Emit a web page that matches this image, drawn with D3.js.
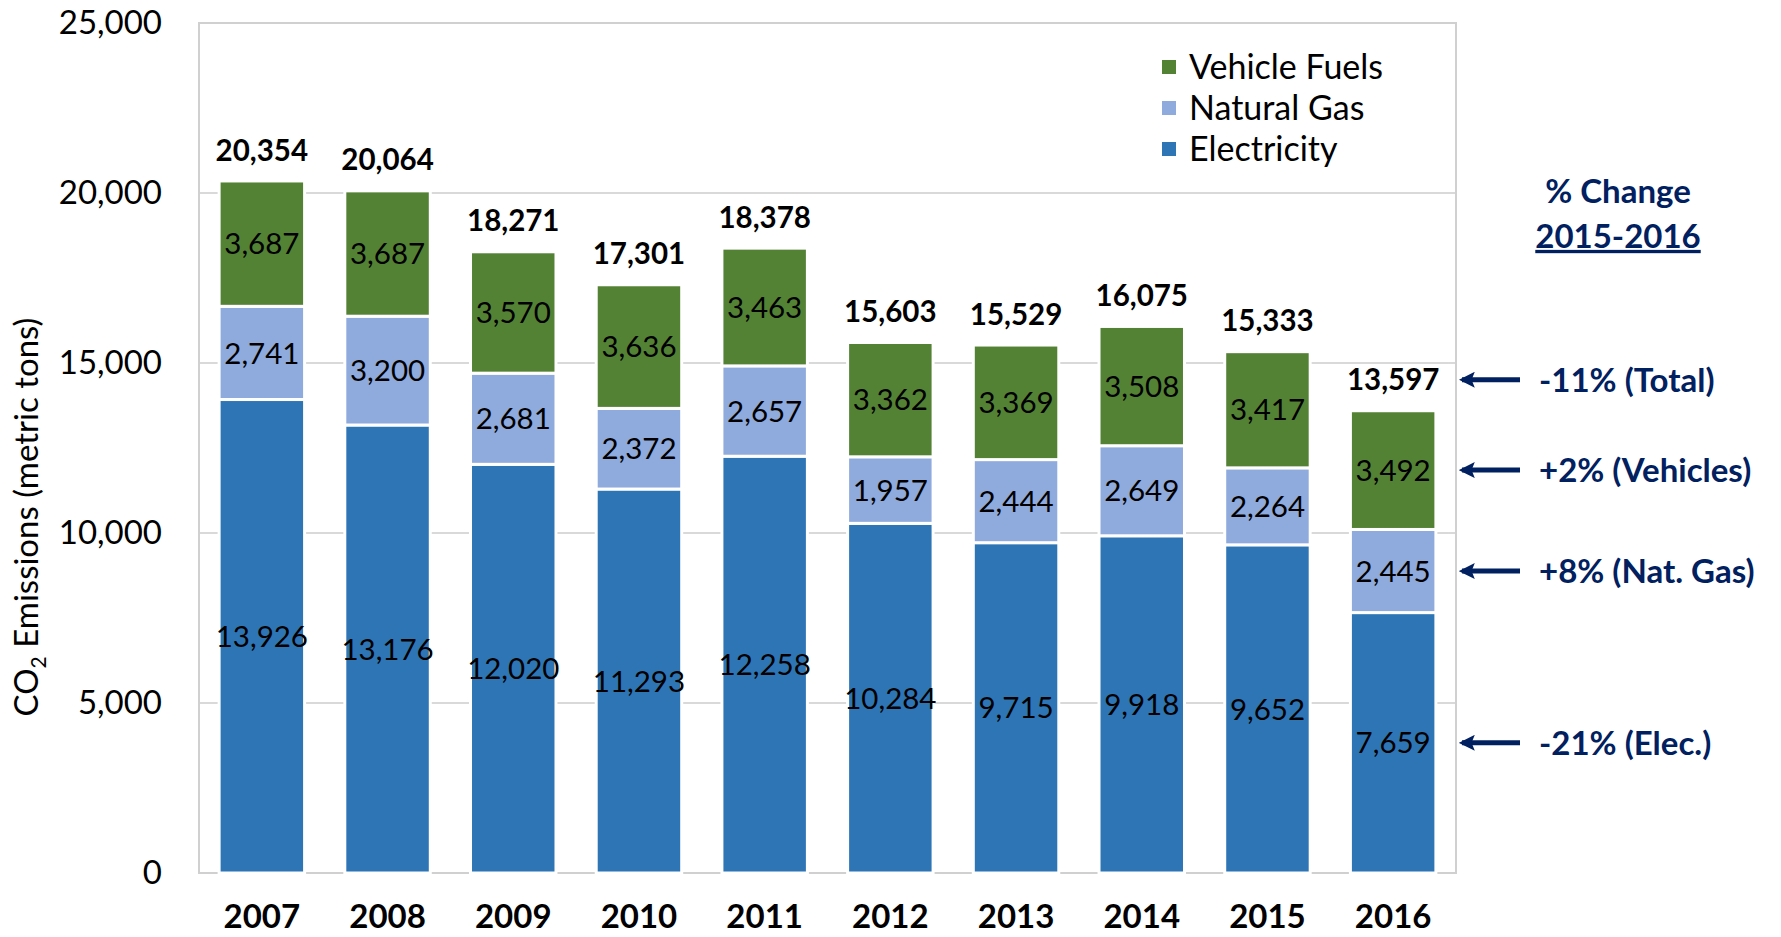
<!DOCTYPE html>
<html>
<head>
<meta charset="utf-8">
<script src="https://cdn.jsdelivr.net/npm/d3@7"></script>
<style>
  html, body { margin: 0; padding: 0; background: #fff; }
  svg { display: block; font-family: Lato, "Open Sans", sans-serif; }
</style>
</head>
<body>
<div id="chart"></div>
<script>
// Data
const years = ["2007", "2008", "2009", "2010", "2011", "2012", "2013", "2014", "2015", "2016"];
const electricity = [13926, 13176, 12020, 11293, 12258, 10284, 9715, 9918, 9652, 7659];
const naturalGas = [2741, 3200, 2681, 2372, 2657, 1957, 2444, 2649, 2264, 2445];
const vehicleFuels = [3687, 3687, 3570, 3636, 3463, 3362, 3369, 3508, 3417, 3492];
const totals = [20354, 20064, 18271, 17301, 18378, 15603, 15529, 16075, 15333, 13597];
const yTicks = [0, 5000, 10000, 15000, 20000, 25000];
const seriesNames = ["Electricity", "Natural Gas", "Vehicle Fuels"];
const seriesColors = ["#2e75b6", "#8faadc", "#548235"];
// % change 2015-2016, pointed at the 2016 labels (total, vehicles, gas, elec)
const changeLabels = ["-11% (Total)", "+2% (Vehicles)", "+8% (Nat. Gas)", "-21% (Elec.)"];

const width = 1781, height = 937;
const margin = { top: 23, right: 325, bottom: 64, left: 199 };
const innerW = width - margin.left - margin.right;
const innerH = height - margin.top - margin.bottom;

const svg = d3.select("#chart").append("svg")
  .attr("width", width)
  .attr("height", height);

const g = svg.append("g").attr("transform", `translate(${margin.left},${margin.top})`);

const x = d3.scaleBand().domain(years).range([0, innerW]).paddingInner(0.32).paddingOuter(0.16);
const y = d3.scaleLinear().domain([0, 25000]).range([innerH, 0]);

const fmt = d3.format(",");

// gridlines
g.selectAll("line.grid")
  .data(yTicks.slice(1, -1))
  .enter().append("line")
  .attr("class", "grid")
  .attr("x1", 0).attr("x2", innerW)
  .attr("y1", d => y(d)).attr("y2", d => y(d))
  .attr("stroke", "#d9d9d9")
  .attr("stroke-width", 2);

// plot frame
g.append("rect")
  .attr("x", 0).attr("y", 0)
  .attr("width", innerW).attr("height", innerH)
  .attr("fill", "none")
  .attr("stroke", "#d0d0d0")
  .attr("stroke-width", 2);

// y axis labels
const yAxis = d3.axisLeft(y).tickValues(yTicks).tickFormat(fmt).tickSize(0).tickPadding(37);
g.append("g").call(yAxis)
  .call(a => a.select(".domain").remove())
  .selectAll("text")
  .attr("font-size", 33)
  .attr("font-family", "Lato, sans-serif")
  .attr("fill", "#000");

// x axis labels
const xAxis = d3.axisBottom(x).tickSize(0).tickPadding(32);
g.append("g").attr("transform", `translate(0,${innerH})`).call(xAxis)
  .call(a => a.select(".domain").remove())
  .selectAll("text")
  .attr("font-size", 33)
  .attr("font-weight", "bold")
  .attr("font-family", "Lato, sans-serif")
  .attr("fill", "#000");

// stacked data
const rows = years.map((yr, i) => ({
  year: yr,
  "Electricity": electricity[i],
  "Natural Gas": naturalGas[i],
  "Vehicle Fuels": vehicleFuels[i],
  total: totals[i]
}));
const stack = d3.stack().keys(seriesNames)(rows);
const color = d3.scaleOrdinal().domain(seriesNames).range(seriesColors);

const layers = g.selectAll("g.layer")
  .data(stack)
  .enter().append("g")
  .attr("class", "layer")
  .attr("fill", d => color(d.key));

layers.selectAll("rect")
  .data(d => d)
  .enter().append("rect")
  .attr("x", d => x(d.data.year))
  .attr("y", d => y(d[1]))
  .attr("width", x.bandwidth())
  .attr("height", d => y(d[0]) - y(d[1]))
  .attr("stroke", "#fff")
  .attr("stroke-width", 3);

// segment value labels
layers.selectAll("text")
  .data(d => d.map(v => ({ v, key: d.key })))
  .enter().append("text")
  .attr("x", d => x(d.v.data.year) + x.bandwidth() / 2)
  .attr("y", d => y((d.v[0] + d.v[1]) / 2))
  .attr("dy", "0.36em")
  .attr("text-anchor", "middle")
  .attr("font-size", 29.5)
  .attr("fill", "#000")
  .text(d => fmt(d.v.data[d.key]));

// totals
g.selectAll("text.total")
  .data(rows)
  .enter().append("text")
  .attr("class", "total")
  .attr("x", d => x(d.year) + x.bandwidth() / 2)
  .attr("y", (d, i) => y(stack[2][i][1]) - 31)
  .attr("dy", "0.36em")
  .attr("text-anchor", "middle")
  .attr("font-size", 29.5)
  .attr("font-weight", "bold")
  .attr("fill", "#000")
  .text(d => fmt(d.total));

// legend
const legendKeys = seriesNames.slice().reverse();
const legend = g.append("g").attr("transform", `translate(${1162 - margin.left},${67 - margin.top})`);
legendKeys.forEach((k, i) => {
  const row = legend.append("g").attr("transform", `translate(0,${i * 41})`);
  row.append("rect").attr("x", 0).attr("y", -7).attr("width", 14).attr("height", 14).attr("fill", color(k));
  row.append("text").attr("x", 27).attr("y", 0).attr("dy", "0.36em")
    .attr("font-size", 34).attr("fill", "#000").text(k);
});

// y axis title
const yTitle = svg.append("text")
  .attr("transform", `translate(38,517) rotate(-90)`)
  .attr("text-anchor", "middle")
  .attr("font-size", 33)
  .attr("fill", "#000");
yTitle.append("tspan").text("CO");
yTitle.append("tspan").attr("font-size", 21).attr("dy", 8).text("2");
yTitle.append("tspan").attr("dy", -8).text(" Emissions (metric tons)");

// % change annotation
const navy = "#002060";
const ann = svg.append("g");
ann.append("text")
  .attr("x", 1618).attr("y", 191).attr("dy", "0.36em")
  .attr("text-anchor", "middle").attr("font-size", 33).attr("font-weight", "bold")
  .attr("fill", navy).text("% Change");
ann.append("text")
  .attr("x", 1618).attr("y", 236).attr("dy", "0.36em")
  .attr("text-anchor", "middle").attr("font-size", 33).attr("font-weight", "bold")
  .attr("fill", navy).style("text-decoration", "underline").text("2015-2016");

svg.append("defs").append("marker")
  .attr("id", "arrowhead")
  .attr("viewBox", "0 0 10 10")
  .attr("refX", 8).attr("refY", 5)
  .attr("markerWidth", 3.2).attr("markerHeight", 3.2)
  .attr("orient", "auto")
  .append("path").attr("d", "M0,0 L10,5 L0,10 L2,5 Z").attr("fill", navy);

const last = years.length - 1;
const arrowYs = [
  margin.top + y(stack[2][last][1]) - 31,
  margin.top + y((stack[2][last][0] + stack[2][last][1]) / 2),
  margin.top + y((stack[1][last][0] + stack[1][last][1]) / 2),
  margin.top + y((stack[0][last][0] + stack[0][last][1]) / 2)
];

changeLabels.forEach((lbl, i) => {
  ann.append("line")
    .attr("x1", 1520).attr("x2", 1462)
    .attr("y1", arrowYs[i]).attr("y2", arrowYs[i])
    .attr("stroke", navy).attr("stroke-width", 5)
    .attr("marker-end", "url(#arrowhead)");
  ann.append("text")
    .attr("x", 1539).attr("y", arrowYs[i]).attr("dy", "0.36em")
    .attr("font-size", 33).attr("font-weight", "bold")
    .attr("fill", navy).text(lbl);
});
</script>
</body>
</html>
